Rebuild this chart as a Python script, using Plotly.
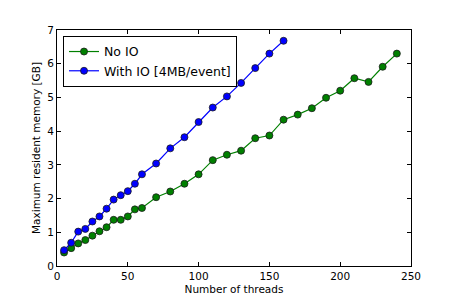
import plotly.graph_objects as go

threads_io = [5, 10, 15, 20, 25, 30, 35, 40, 45, 50, 55, 60, 70, 80, 90, 100, 110, 120, 130, 140, 150, 160]
mem_io = [0.47, 0.69, 1.02, 1.10, 1.32, 1.47, 1.70, 1.97, 2.10, 2.22, 2.44, 2.72, 3.04, 3.49, 3.82, 4.27, 4.70, 5.03, 5.43, 5.87, 6.30, 6.68]

threads_noio = [5, 10, 15, 20, 25, 30, 35, 40, 45, 50, 55, 60, 70, 80, 90, 100, 110, 120, 130, 140, 150, 160, 170, 180, 190, 200, 210, 220, 230, 240]
mem_noio = [0.40, 0.53, 0.67, 0.77, 0.90, 1.03, 1.15, 1.37, 1.37, 1.47, 1.68, 1.72, 2.04, 2.21, 2.44, 2.72, 3.14, 3.30, 3.42, 3.79, 3.87, 4.34, 4.49, 4.68, 4.99, 5.20, 5.57, 5.46, 5.91, 6.30]

font = "DejaVu Sans"
fig = go.Figure()
fig.add_trace(go.Scatter(
    x=threads_noio, y=mem_noio, name="No IO", mode="lines+markers",
    line=dict(color="#008000", width=1.2),
    marker=dict(color="#008000", size=7, line=dict(color="#1a1a1a", width=0.8)),
))
fig.add_trace(go.Scatter(
    x=threads_io, y=mem_io, name="With IO [4MB/event]", mode="lines+markers",
    line=dict(color="#0000ff", width=1.2),
    marker=dict(color="#0000ff", size=7, line=dict(color="#1a1a1a", width=0.8)),
))

axis_common = dict(
    showline=True, linecolor="black", linewidth=1, mirror="ticks",
    ticks="inside", ticklen=4, tickcolor="black", showgrid=False, zeroline=False,
    tickfont=dict(family=font, size=10.5, color="black"), automargin=False,
)
fig.update_xaxes(range=[0, 250], dtick=50, tick0=0,
                 title=dict(text="Number of threads", font=dict(family=font, size=10.5, color="black"), standoff=5),
                 **axis_common)
fig.update_yaxes(range=[0, 7], dtick=1, tick0=0,
                 title=dict(text="Maximum resident memory [GB]", font=dict(family=font, size=10.5, color="black"), standoff=4),
                 **axis_common)

fig.update_layout(
    width=457, height=305,
    margin=dict(l=57, r=46, t=30, b=39, autoexpand=False),
    paper_bgcolor="white", plot_bgcolor="white",
    font=dict(family=font, color="black"),
    legend=dict(x=0.017, y=0.975, xanchor="left", yanchor="top",
                bordercolor="black", borderwidth=1, bgcolor="white",
                font=dict(family=font, size=12.5, color="black"),
                tracegroupgap=0, itemwidth=30),
    showlegend=True,
)
fig.write_html("out.html", config={"displayModeBar": False},
               post_script="document.body.style.margin='0';document.body.style.padding='0';")
